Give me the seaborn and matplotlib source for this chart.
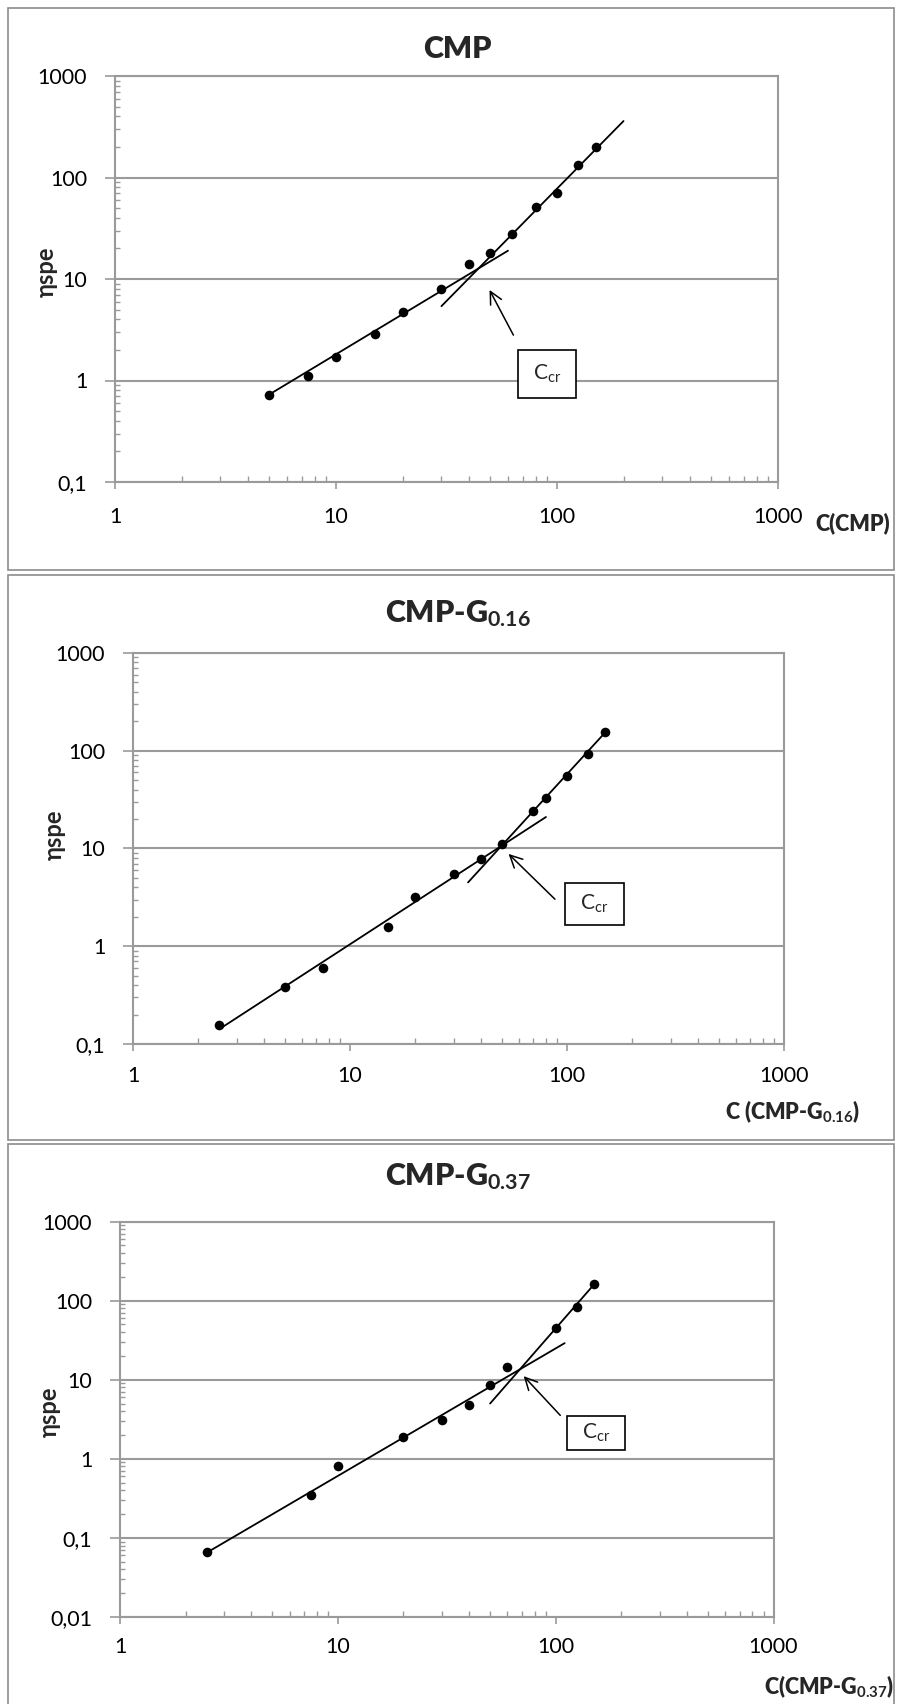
import numpy as np
import pandas as pd
import matplotlib
matplotlib.use("Agg")
import matplotlib.pyplot as plt
from matplotlib import ticker, patches, transforms
import seaborn as sns

# CMP
cmp_c = [5, 7.5, 10, 15, 20, 30, 40, 50, 62.5, 80, 100, 125, 150]
cmp_eta = [0.72, 1.1, 1.7, 2.9, 4.7, 7.9, 14, 18, 28, 51, 70, 132, 198]
cmp_dilute_c = [5, 60]
cmp_dilute_eta = [0.73, 19]
cmp_semi_c = [30, 200]
cmp_semi_eta = [5.4, 360]
cmp_arrow = [(49.5, 7.8), (63.5, 2.8)]     # head, tail
cmp_box = (90, 1.16)

# CMP-G0.16
g16_c = [2.5, 5, 7.5, 15, 20, 30, 40, 50, 70, 80, 100, 125, 150]
g16_eta = [0.157, 0.38, 0.60, 1.58, 3.2, 5.45, 7.9, 11, 24, 32.5, 55, 92.5, 154]
g16_dilute_c = [2.5, 80]
g16_dilute_eta = [0.142, 21]
g16_semi_c = [35, 150]
g16_semi_eta = [4.5, 154]
g16_arrow = [(53.8, 8.8), (88, 3.03)]
g16_box = (133.6, 2.72)

# CMP-G0.37
g37_c = [2.5, 7.5, 10, 20, 30, 40, 50, 60, 100, 125, 150]
g37_eta = [0.066, 0.35, 0.82, 1.91, 3.06, 4.8, 8.5, 14.4, 45, 84, 160]
g37_dilute_c = [2.5, 110]
g37_dilute_eta = [0.065, 29]
g37_semi_c = [50, 150]
g37_semi_eta = [5.0, 160]
g37_arrow = [(71.3, 11.1), (105, 3.54)]
g37_box = (153.6, 2.14)

titles = ["CMP", r"CMP-G$_\mathbf{0.16}$", r"CMP-G$_\mathbf{0.37}$"]
xlabels = ["C(CMP)", r"C (CMP-G$_\mathbf{0.16}$)", r"C(CMP-G$_\mathbf{0.37}$)"]
ylabel = "ηspe"
y_bottoms = [0.1, 0.1, 0.01]

W, H = 897, 1704
GRAY = "#9a9a9a"

sns.set_theme(style="white")
plt.rcParams["font.family"] = ["Lato", "DejaVu Sans"]
plt.rcParams["mathtext.fontset"] = "custom"
plt.rcParams["mathtext.rm"] = "Lato"
plt.rcParams["mathtext.bf"] = "Lato:bold"
plt.rcParams["mathtext.it"] = "Lato:italic"

fig = plt.figure(figsize=(W / 100, H / 100), dpi=100)
fig.patch.set_facecolor("white")


def fx(px):
    return px / W


def fy(py):
    return 1 - py / H


def fmt(v, pos):
    return f"{v:g}".replace(".", ",")


# pixel layout of each panel
layout = [
    dict(ax=(115, 778, 76, 482), frame=(8, 894, 8, 570), title=(457, 49),
         ylab=(46, 272), xlab=(853, 523, "center"), xpad=13, box=(58, 48)),
    dict(ax=(133, 784, 653, 1044), frame=(8, 894, 575, 1140), title=(458, 614),
         ylab=(54, 835), xlab=(792, 1112, "center"), xpad=11, box=(59, 42)),
    dict(ax=(120, 773.5, 1221.5, 1617), frame=(8, 894, 1144, 1712), title=(458, 1177),
         ylab=(49, 1412), xlab=(894, 1687, "right"), xpad=9.5, box=(58, 34)),
]

series = [
    (cmp_c, cmp_eta, cmp_dilute_c, cmp_dilute_eta, cmp_semi_c, cmp_semi_eta, cmp_arrow, cmp_box),
    (g16_c, g16_eta, g16_dilute_c, g16_dilute_eta, g16_semi_c, g16_semi_eta, g16_arrow, g16_box),
    (g37_c, g37_eta, g37_dilute_c, g37_dilute_eta, g37_semi_c, g37_semi_eta, g37_arrow, g37_box),
]

for i, (lay, data) in enumerate(zip(layout, series)):
    c, eta, dc, de, sc, se, arrow, box = data

    # panel frame
    x0, x1, y0, y1 = lay["frame"]
    fig.add_artist(patches.Rectangle((fx(x0), fy(y1)), fx(x1) - fx(x0), fy(y0) - fy(y1),
                                     transform=fig.transFigure, fill=False,
                                     edgecolor="#8c8c8c", lw=1.2))

    l, r, t, b = lay["ax"]
    ax = fig.add_axes([fx(l), fy(b), fx(r) - fx(l), fy(t) - fy(b)])
    ax.set_xscale("log")
    ax.set_yscale("log")

    df = pd.DataFrame({"c": c, "eta": eta})
    sns.lineplot(x=dc, y=de, ax=ax, color="black", lw=1.3, sort=False, estimator=None)
    sns.lineplot(x=sc, y=se, ax=ax, color="black", lw=1.3, sort=False, estimator=None)
    sns.scatterplot(data=df, x="c", y="eta", ax=ax, color="black", s=48,
                    linewidth=0, zorder=4)

    ax.set_xlim(1, 1000)
    ax.set_ylim(y_bottoms[i], 1000)
    ax.set_xlabel("")
    ax.set_ylabel("")

    ax.yaxis.grid(True, which="major", color=GRAY, lw=1.5)
    ax.xaxis.grid(False)
    ax.set_axisbelow(True)
    for sp in ax.spines.values():
        sp.set_color(GRAY)
        sp.set_linewidth(1.5)

    for axis in (ax.xaxis, ax.yaxis):
        axis.set_major_locator(ticker.LogLocator(base=10, numticks=10))
        axis.set_minor_locator(ticker.LogLocator(base=10, subs=np.arange(2, 10), numticks=10))
        axis.set_major_formatter(ticker.FuncFormatter(fmt))
        axis.set_minor_formatter(ticker.NullFormatter())

    ax.tick_params(axis="both", which="both", bottom=True, left=True, top=False,
                   right=False, color=GRAY, labelsize=15.5, labelcolor="black")
    ax.tick_params(axis="x", which="major", direction="out", length=5, width=1.2,
                   pad=lay["xpad"])
    ax.tick_params(axis="x", which="minor", direction="in", length=4.5, width=1.0)
    ax.tick_params(axis="y", which="major", direction="out", length=7, width=1.2, pad=13)
    ax.tick_params(axis="y", which="minor", direction="in", length=3.5, width=1.0)

    # Ccr callout
    ax.annotate("", xy=arrow[0], xytext=arrow[1],
                arrowprops=dict(arrowstyle="->", color="black", lw=1.1,
                                mutation_scale=22, shrinkA=0, shrinkB=0))
    bw, bh = lay["box"]
    trans = fig.dpi_scale_trans + transforms.ScaledTranslation(box[0], box[1], ax.transData)
    ax.add_artist(patches.Rectangle((-bw / 200, -bh / 200), bw / 100, bh / 100,
                                    transform=trans, facecolor="white",
                                    edgecolor="black", lw=1.2, zorder=5))
    ax.text(box[0], box[1], r"C$_\mathrm{cr}$", ha="center", va="center",
            fontsize=15, zorder=6)

    # texts
    fig.text(fx(lay["title"][0]), fy(lay["title"][1]), titles[i], ha="center",
             va="center", fontsize=22, fontweight="heavy")
    fig.text(fx(lay["ylab"][0]), fy(lay["ylab"][1]), ylabel, rotation=90, ha="center",
             va="center", fontsize=17, fontweight="bold")
    xl = lay["xlab"]
    fig.text(fx(xl[0]), fy(xl[1]), xlabels[i], ha=xl[2], va="center",
             fontsize=15.5, fontweight="heavy")

fig.savefig("out.png", dpi=100)
